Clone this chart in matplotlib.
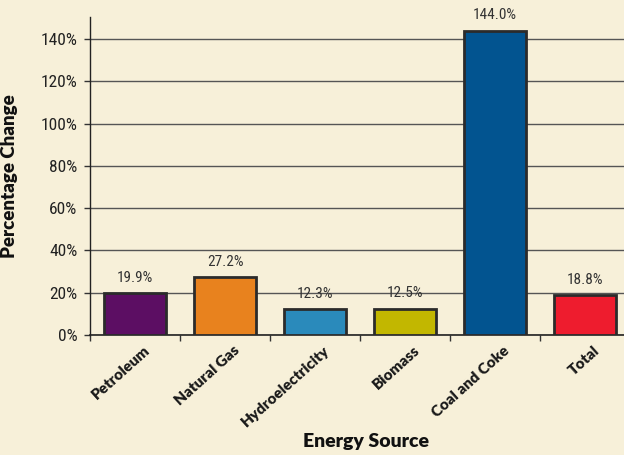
import matplotlib
matplotlib.use("Agg")
import matplotlib.pyplot as plt
from matplotlib import font_manager as fm

categories = ["Petroleum", "Natural Gas", "Hydroelectricity", "Biomass", "Coal and Coke", "Total"]
values = [19.9, 27.2, 12.3, 12.5, 144.0, 18.8]
colors = ["#5C0E63", "#E8821E", "#2A8ABB", "#C2B700", "#025490", "#EE1C2E"]
yticks = [0, 20, 40, 60, 80, 100, 120, 140]

def pick_narrow():
    for fam, stretch in [("Liberation Sans Narrow", "normal"), ("Roboto Condensed", "normal"),
                         ("DejaVu Sans", "condensed"), ("Open Sans Condensed", "normal")]:
        try:
            p = fm.FontProperties(family=fam, stretch=stretch)
            f = fm.findfont(p, fallback_to_default=False)
            if stretch == "condensed" and "Condensed" not in f:
                continue
            return fm.FontProperties(fname=f)
        except Exception:
            continue
    return fm.FontProperties(family="DejaVu Sans")

narrow = pick_narrow()

bg = "#F7F0D9"
fig = plt.figure(figsize=(6.24, 4.55), dpi=100, facecolor=bg)
ax = fig.add_axes([90/624, 1-335/455, 1-90/624, (335-17)/455], facecolor=bg)

x = list(range(len(categories)))
ax.bar(x, values, width=0.68, color=colors, edgecolor="#2b2b2b", linewidth=2, zorder=3)
ax.set_ylim(0, 150.4)
ax.set_xlim(-0.5, -0.5 + 534/90)

ax.set_yticks(yticks)
ax.set_yticklabels([f"{v}%" for v in yticks])
for t in ax.get_yticklabels():
    t.set_fontproperties(narrow)
    t.set_fontsize(12.5)
    t.set_color("#222222")
ax.yaxis.grid(True, color="#555555", linewidth=1, zorder=0)
ax.tick_params(axis="y", length=4, width=1, color="#333333", pad=5)

ax.set_xticks([i - 0.5 for i in x])
ax.set_xticklabels([])
ax.set_xticks([i + 0.09 for i in x], minor=True)
ax.set_xticklabels(categories, minor=True, rotation=42, ha="right", rotation_mode="anchor",
                   fontfamily="Lato", fontweight="heavy", fontsize=11, color="#1a1a1a")
ax.tick_params(axis="x", which="major", length=4, width=1, color="#333333", direction="out")
ax.tick_params(axis="x", which="minor", length=0, pad=6)

for s in ["top", "right"]:
    ax.spines[s].set_visible(False)
ax.spines["left"].set_color("#222222")
ax.spines["bottom"].set_color("#222222")
ax.spines["left"].set_linewidth(1)
ax.spines["bottom"].set_linewidth(1.2)

for i, v in enumerate(values):
    t = ax.annotate(f"{v:.1f}%", (i, v), xytext=(0, 6), textcoords="offset points",
                    ha="center", va="bottom", color="#333333")
    t.set_fontproperties(narrow)
    t.set_fontsize(11)

ax.set_ylabel("Percentage Change", fontfamily="Lato", fontweight="heavy", fontsize=13.5, color="#111111")
ax.yaxis.set_label_coords((18-90)/534, 0.5)
fig.text(366/624, 1-442/455, "Energy Source", ha="center", va="center",
         fontfamily="Lato", fontweight="heavy", fontsize=14, color="#111111")

fig.savefig("out.png", dpi=100, facecolor=bg)
